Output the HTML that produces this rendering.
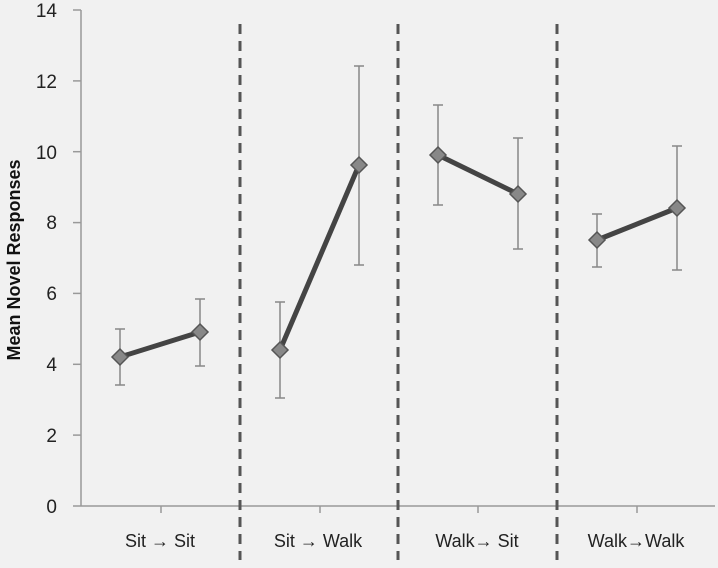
<!DOCTYPE html>
<html><head><style>body{margin:0;background:#f1f1f1}</style></head><body>
<svg width="718" height="563" xmlns="http://www.w3.org/2000/svg" font-family="Liberation Sans, sans-serif">
<rect width="718" height="563" fill="#f1f1f1"/>
<g stroke="#999" stroke-width="1.5" fill="none">
<line x1="81" y1="10" x2="81" y2="506"/>
<line x1="73" y1="506" x2="715" y2="506"/>
<line x1="73" y1="10" x2="81" y2="10"/><line x1="73" y1="80.9" x2="81" y2="80.9"/><line x1="73" y1="151.7" x2="81" y2="151.7"/><line x1="73" y1="222.6" x2="81" y2="222.6"/><line x1="73" y1="293.4" x2="81" y2="293.4"/><line x1="73" y1="364.3" x2="81" y2="364.3"/><line x1="73" y1="435.1" x2="81" y2="435.1"/>
<line x1="161" y1="506" x2="161" y2="513"/><line x1="320" y1="506" x2="320" y2="513"/><line x1="478" y1="506" x2="478" y2="513"/><line x1="637" y1="506" x2="637" y2="513"/>
</g>
<g font-size="19" fill="#222" text-anchor="end">
<text x="57" y="17">14</text><text x="57" y="88">12</text><text x="57" y="159">10</text><text x="57" y="229">8</text><text x="57" y="300">6</text><text x="57" y="371">4</text><text x="57" y="442">2</text><text x="57" y="513">0</text>
</g>
<text transform="translate(20,260) rotate(-90)" font-size="18" font-weight="bold" fill="#111" text-anchor="middle">Mean Novel Responses</text>
<g stroke="#555" stroke-width="3" stroke-dasharray="10,7">
<line x1="240" y1="24" x2="240" y2="560"/><line x1="398" y1="24" x2="398" y2="560"/><line x1="557" y1="24" x2="557" y2="560"/>
</g>
<g font-size="18" fill="#222" text-anchor="middle">
<text x="160" y="547">Sit  <tspan font-weight="bold">→</tspan>  Sit</text>
<text x="318" y="547">Sit <tspan font-weight="bold">→</tspan> Walk</text>
<text x="477" y="547">Walk<tspan font-weight="bold">→</tspan>  Sit</text>
<text x="636" y="547">Walk<tspan font-weight="bold">→</tspan>Walk</text>
</g>
<g stroke="#888" stroke-width="1.5">
<line x1="120" y1="385" x2="120" y2="329"/><line x1="115" y1="385" x2="125" y2="385"/><line x1="115" y1="329" x2="125" y2="329"/>
<line x1="200" y1="366" x2="200" y2="299"/><line x1="195" y1="366" x2="205" y2="366"/><line x1="195" y1="299" x2="205" y2="299"/>
<line x1="280" y1="398" x2="280" y2="302"/><line x1="275" y1="398" x2="285" y2="398"/><line x1="275" y1="302" x2="285" y2="302"/>
<line x1="359" y1="265" x2="359" y2="66"/><line x1="354" y1="265" x2="364" y2="265"/><line x1="354" y1="66" x2="364" y2="66"/>
<line x1="438" y1="205" x2="438" y2="105"/><line x1="433" y1="205" x2="443" y2="205"/><line x1="433" y1="105" x2="443" y2="105"/>
<line x1="518" y1="249" x2="518" y2="138"/><line x1="513" y1="249" x2="523" y2="249"/><line x1="513" y1="138" x2="523" y2="138"/>
<line x1="597" y1="267" x2="597" y2="214"/><line x1="592" y1="267" x2="602" y2="267"/><line x1="592" y1="214" x2="602" y2="214"/>
<line x1="677" y1="270" x2="677" y2="146"/><line x1="672" y1="270" x2="682" y2="270"/><line x1="672" y1="146" x2="682" y2="146"/>
</g>
<g stroke="#444" stroke-width="5" fill="none">
<line x1="120" y1="357" x2="200" y2="332"/>
<line x1="280" y1="350" x2="359" y2="165"/>
<line x1="438" y1="155" x2="518" y2="194"/>
<line x1="597" y1="240" x2="677" y2="208"/>
</g>
<g fill="#888" stroke="#555" stroke-width="1.5">
<path d="M120 349 l8 8 -8 8 -8 -8z"/><path d="M200 324 l8 8 -8 8 -8 -8z"/>
<path d="M280 342 l8 8 -8 8 -8 -8z"/><path d="M359 157 l8 8 -8 8 -8 -8z"/>
<path d="M438 147 l8 8 -8 8 -8 -8z"/><path d="M518 186 l8 8 -8 8 -8 -8z"/>
<path d="M597 232 l8 8 -8 8 -8 -8z"/><path d="M677 200 l8 8 -8 8 -8 -8z"/>
</g>
</svg>
</body></html>
